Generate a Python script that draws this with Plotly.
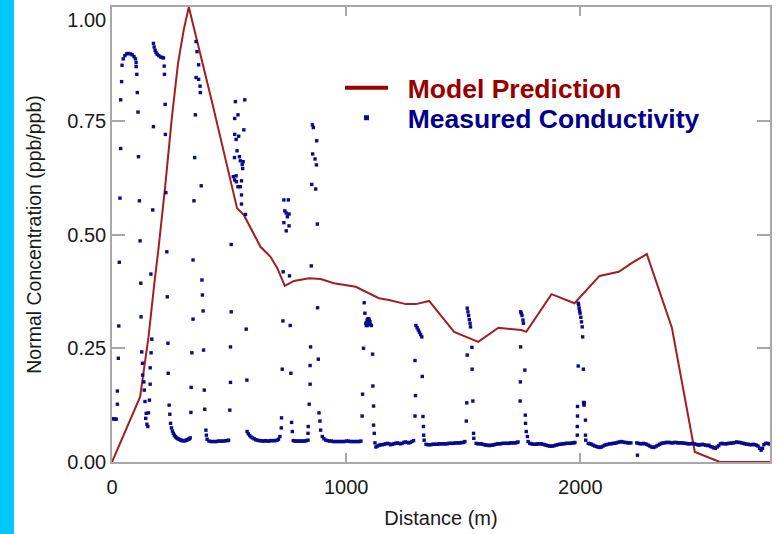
import plotly.graph_objects as go

# ---------------- data ----------------
model_d = [0, 120, 138, 156, 181, 198, 227, 256, 282, 306, 328, 430, 534, 563, 634, 677, 706, 738,
           777, 841, 891, 948, 1041, 1140, 1183, 1255, 1298, 1354, 1461, 1564, 1650, 1748, 1769,
           1877, 1975, 2082, 2164, 2219, 2284, 2391, 2489, 2596, 2810]
model_v = [0.0, 0.143, 0.209, 0.275, 0.393, 0.466, 0.605, 0.759, 0.876, 0.949, 1.0, 0.785, 0.558,
           0.543, 0.473, 0.451, 0.426, 0.387, 0.398, 0.404, 0.402, 0.393, 0.385, 0.36, 0.356, 0.347,
           0.347, 0.354, 0.286, 0.264, 0.295, 0.29, 0.286, 0.369, 0.349, 0.409, 0.418, 0.437, 0.457,
           0.295, 0.022, 0.0, 0.0]

# measured conductivity, grouped by stretch of the profile (distance m, normalised value)
seg_start_d = [3, 8, 13, 18, 23, 23, 27, 29, 31, 34, 37, 37, 41,
               43, 48, 55, 62, 70, 78, 86, 94, 100, 103,
               103, 106, 108, 111, 113, 117, 120, 123, 124, 127, 130, 131, 136, 138, 141, 144, 146, 149, 153,
               156, 160, 163, 163, 167, 170, 166, 174, 177,
               177, 180, 184, 188, 193, 200, 208, 215, 220,
               223, 224, 227, 228, 230, 234, 236, 239, 240, 244, 247]
seg_start_v = [0.095, 0.095, 0.094, 0.094, 0.127, 0.156, 0.228, 0.299, 0.439, 0.58, 0.689, 0.796, 0.836,
               0.872, 0.886, 0.893, 0.897, 0.898, 0.897, 0.895, 0.891, 0.886, 0.878,
               0.869, 0.852, 0.812, 0.769, 0.671, 0.574, 0.486, 0.393, 0.319, 0.242, 0.217, 0.191, 0.176, 0.158, 0.133, 0.096, 0.107, 0.083, 0.078,
               0.108, 0.136, 0.171, 0.207, 0.24, 0.27, 0.413, 0.554, 0.737,
               0.92, 0.912, 0.905, 0.9, 0.896, 0.893, 0.89, 0.889, 0.888,
               0.87, 0.852, 0.786, 0.72, 0.592, 0.462, 0.363, 0.261, 0.195, 0.125, 0.105]

seg_a_d = [250, 254, 258, 262, 266, 270, 274, 278, 282, 286, 290, 294, 298, 302, 306, 310, 314, 318, 322, 326, 330, 334,
           337, 338, 341, 346, 346, 350, 353, 356, 359, 359, 363, 370, 370, 376, 377, 381, 384, 386, 389, 391, 394, 396, 401, 403,
           406, 414, 422, 430, 438, 446, 454, 462, 470, 478, 486, 494, 498]
seg_a_v = [0.085, 0.075, 0.068, 0.063, 0.059, 0.056, 0.054, 0.052, 0.051, 0.05, 0.049, 0.048, 0.047, 0.047, 0.047, 0.047, 0.047, 0.048, 0.049, 0.05, 0.051, 0.053,
           0.109, 0.164, 0.24, 0.314, 0.444, 0.574, 0.669, 0.763, 0.845, 0.924, 0.902, 0.873, 0.841, 0.826, 0.812, 0.607, 0.4, 0.367, 0.332, 0.246, 0.158, 0.116, 0.07, 0.059,
           0.05, 0.046, 0.045, 0.045, 0.045, 0.045, 0.046, 0.046, 0.046, 0.046, 0.047, 0.047, 0.048]

seg_b_d = [503, 506, 506, 509, 509,
           527, 567, 538, 524, 563, 524, 541, 530, 534, 523, 544, 548, 560, 556, 558, 518, 530, 524, 531, 538, 553, 548, 553, 553, 570,
           573, 576,
           577, 582, 588, 594, 600, 607, 614, 621, 628, 635, 642, 649, 656, 663, 670, 677, 684, 691, 698, 705, 711, 717]
seg_b_v = [0.114, 0.175, 0.253, 0.33, 0.478,
           0.792, 0.796, 0.763, 0.755, 0.73, 0.72, 0.716, 0.709, 0.684, 0.669, 0.671, 0.662, 0.66, 0.654, 0.645, 0.627, 0.629, 0.62, 0.616, 0.605, 0.618, 0.605, 0.587, 0.567, 0.544,
           0.292, 0.18,
           0.067, 0.062, 0.058, 0.055, 0.053, 0.051, 0.049, 0.048, 0.047, 0.047, 0.046, 0.046, 0.047, 0.046, 0.046, 0.047, 0.047, 0.047, 0.047, 0.048, 0.05, 0.056]

seg_c_d = [723, 724, 727, 730, 731, 734, 734, 738, 744, 749, 744, 753, 756, 756, 758, 761, 764, 767, 770,
           774, 781, 788, 795, 802, 809, 816, 823, 830, 837,
           837, 838, 842, 846, 846, 848, 851, 853, 856, 860, 874, 857, 867, 873, 870, 877, 878, 881, 884, 888, 891,
           898, 905, 913, 921, 929, 937, 945, 953, 961, 969, 977, 985, 993, 1001, 1009, 1017, 1025, 1033, 1041, 1049, 1057, 1063]
seg_c_v = [0.075, 0.097, 0.204, 0.31, 0.418, 0.526, 0.576, 0.552, 0.547, 0.539, 0.508, 0.576, 0.545, 0.519, 0.409, 0.3, 0.195, 0.087, 0.067,
           0.047, 0.046, 0.046, 0.046, 0.046, 0.046, 0.046, 0.046, 0.047, 0.048,
           0.063, 0.078, 0.127, 0.171, 0.212, 0.253, 0.431, 0.61, 0.741, 0.735, 0.706, 0.677, 0.666, 0.653, 0.6, 0.523, 0.339, 0.226, 0.108, 0.09, 0.07,
           0.056, 0.051, 0.048, 0.047, 0.046, 0.046, 0.045, 0.045, 0.045, 0.045, 0.045, 0.045, 0.045, 0.046, 0.046, 0.045, 0.045, 0.045, 0.045, 0.045, 0.045, 0.046]

seg_d_d = [1068, 1070, 1074, 1077, 1080, 1084, 1086, 1088, 1090, 1093, 1096, 1099, 1102, 1104, 1090, 1096, 1108, 1113, 1114, 1117, 1117, 1120,
           1123, 1127, 1134, 1141, 1148, 1155, 1162, 1169, 1176, 1183, 1190, 1197, 1204, 1211, 1218, 1225, 1232, 1239, 1246, 1253, 1260, 1267, 1274, 1281, 1288,
           1298, 1303, 1308, 1313, 1318, 1323, 1294, 1325, 1296, 1294, 1328, 1330, 1331, 1333,
           1341, 1348, 1355, 1362, 1369, 1376, 1383, 1390, 1397, 1404, 1411, 1418, 1425, 1432, 1439, 1446, 1453, 1460, 1467, 1474, 1481, 1488, 1495, 1502, 1507]
seg_d_v = [0.101, 0.149, 0.25, 0.35, 0.327, 0.305, 0.3, 0.307, 0.312, 0.315, 0.315, 0.312, 0.308, 0.302, 0.3, 0.305, 0.3, 0.237, 0.167, 0.123, 0.081, 0.063,
           0.042, 0.033, 0.035, 0.037, 0.038, 0.038, 0.039, 0.04, 0.041, 0.04, 0.038, 0.039, 0.04, 0.041, 0.042, 0.041, 0.04, 0.041, 0.043, 0.044, 0.043, 0.042, 0.043, 0.045, 0.047,
           0.3, 0.295, 0.29, 0.285, 0.28, 0.275, 0.223, 0.188, 0.146, 0.101, 0.1, 0.078, 0.059, 0.048,
           0.039, 0.038, 0.038, 0.038, 0.039, 0.039, 0.039, 0.039, 0.04, 0.04, 0.04, 0.04, 0.04, 0.04, 0.041, 0.041, 0.041, 0.041, 0.042, 0.042, 0.042, 0.042, 0.043, 0.043, 0.045]

seg_e_d = [1513, 1515, 1517, 1517, 1520, 1523, 1526, 1529, 1531, 1537, 1538, 1541, 1544, 1545,
           1555, 1562, 1569, 1576, 1583, 1590, 1597, 1604, 1611, 1618, 1625, 1632, 1639, 1646, 1653, 1660, 1667, 1674, 1681, 1688, 1695, 1702, 1709, 1716, 1723, 1730, 1734,
           1743, 1744, 1745, 1745, 1748, 1751, 1755, 1757, 1763, 1765, 1766, 1769, 1774, 1777,
           1784, 1791, 1798, 1805, 1812, 1819, 1826, 1833, 1840, 1847, 1854, 1861, 1868, 1875, 1882, 1889, 1896, 1903, 1910, 1917, 1924, 1931, 1938, 1945, 1952, 1959, 1966, 1973, 1977]
seg_e_v = [0.09, 0.13, 0.235, 0.338, 0.33, 0.322, 0.313, 0.305, 0.297, 0.252, 0.204, 0.134, 0.063, 0.052,
           0.041, 0.04, 0.04, 0.04, 0.039, 0.038, 0.037, 0.037, 0.036, 0.037, 0.037, 0.038, 0.039, 0.04, 0.04, 0.04, 0.041, 0.041, 0.041, 0.041, 0.041, 0.042, 0.042, 0.042, 0.042, 0.043, 0.044,
           0.134, 0.176, 0.253, 0.33, 0.327, 0.322, 0.312, 0.305, 0.202, 0.103, 0.085, 0.067, 0.056, 0.045,
           0.041, 0.04, 0.039, 0.039, 0.039, 0.04, 0.04, 0.04, 0.039, 0.038, 0.037, 0.036, 0.035, 0.035, 0.035, 0.036, 0.037, 0.038, 0.039, 0.039, 0.04, 0.04, 0.041, 0.041, 0.041, 0.041, 0.042, 0.042, 0.043]

seg_f_d = [1987, 1987, 1988, 1988, 1991, 1991, 1993, 1995, 1997, 1999, 2002, 2005, 2008, 2010, 2013, 2014, 2015, 2016, 2017, 2022, 2022, 2023,
           2034, 2041, 2048, 2055, 2062, 2069, 2076, 2083, 2090, 2097, 2104, 2111, 2118, 2125, 2132, 2139, 2146, 2153, 2160, 2167, 2174, 2181, 2188, 2195, 2202, 2209, 2216,
           2244]
seg_f_v = [0.078, 0.059, 0.101, 0.122, 0.211, 0.349, 0.345, 0.338, 0.332, 0.327, 0.318, 0.308, 0.297, 0.275, 0.204, 0.131, 0.128, 0.125, 0.13, 0.092, 0.059, 0.048,
           0.041, 0.04, 0.039, 0.037, 0.035, 0.034, 0.033, 0.032, 0.033, 0.035, 0.037, 0.038, 0.039, 0.04, 0.04, 0.041, 0.041, 0.042, 0.043, 0.044, 0.045, 0.044, 0.043, 0.043, 0.042, 0.042, 0.042,
           0.015]

seg_g_d = [2241, 2248, 2255, 2262, 2269, 2276, 2283, 2290, 2297, 2304, 2311, 2318, 2325, 2332, 2339, 2346, 2353, 2360, 2367, 2374,
           2381, 2388, 2395, 2402, 2409, 2416, 2423, 2430, 2437, 2444, 2451, 2458, 2465, 2472, 2479, 2486, 2493, 2500, 2507, 2514,
           2521, 2528, 2535, 2542, 2549, 2556, 2563, 2570, 2577, 2584, 2591, 2598, 2605, 2612, 2619, 2626, 2633, 2640, 2647, 2654,
           2661, 2668, 2675, 2682, 2689, 2696, 2703, 2710, 2717, 2724, 2731, 2738, 2745, 2752, 2759, 2766, 2772, 2778, 2784, 2791,
           2798, 2805, 2810]
seg_g_v = [0.042, 0.041, 0.04, 0.04, 0.041, 0.04, 0.039, 0.037, 0.035, 0.033, 0.032, 0.033, 0.035, 0.037, 0.039, 0.041, 0.042, 0.042, 0.043, 0.043,
           0.043, 0.042, 0.042, 0.043, 0.043, 0.042, 0.042, 0.042, 0.042, 0.041, 0.041, 0.04, 0.04, 0.04, 0.041, 0.04, 0.039, 0.038, 0.037, 0.038,
           0.039, 0.038, 0.037, 0.036, 0.037, 0.034, 0.033, 0.031, 0.03, 0.033, 0.036, 0.04, 0.041, 0.04, 0.04, 0.04, 0.041, 0.041, 0.042, 0.042,
           0.043, 0.044, 0.043, 0.043, 0.042, 0.041, 0.04, 0.039, 0.039, 0.038, 0.038, 0.039, 0.038, 0.037, 0.035, 0.03, 0.026, 0.03, 0.038, 0.041,
           0.041, 0.04, 0.04]

meas_d = seg_start_d + seg_a_d + seg_b_d + seg_c_d + seg_d_d + seg_e_d + seg_f_d + seg_g_d
meas_v = seg_start_v + seg_a_v + seg_b_v + seg_c_v + seg_d_v + seg_e_v + seg_f_v + seg_g_v

y_ticks = [0, 0.25, 0.5, 0.75, 1.0]
y_tick_text = ["0.00", "0.25", "0.50", "0.75", "1.00"]
x_ticks = [0, 1000, 2000]

# ---------------- figure ----------------
W, H = 781, 534
ML, MR, MT, MB = 112, 11, 7, 72
PW, PH = W - ML - MR, H - MT - MB

RED = "#A21F1F"
BLUE = "#0A0A8F"
FONT = "Liberation Sans, Arial, Helvetica, sans-serif"
SP = "&nbsp;&nbsp;"

# the top label sits just below its tick (as in the original) so it stays inside the page
y_labels = y_tick_text[:-1] + ["<br>" + y_tick_text[-1]]

fig = go.Figure()
fig.add_trace(go.Scatter(x=model_d, y=model_v, mode="lines", showlegend=False,
                         line=dict(color=RED, width=2), name="Model Prediction"))
fig.add_trace(go.Scatter(x=meas_d, y=meas_v, mode="markers", showlegend=False,
                         marker=dict(color=BLUE, size=3.4, symbol="square", line=dict(width=0)),
                         name="Measured Conductivity"))
# legend entries (one legend box per row for exact placement)
fig.add_trace(go.Scatter(x=[None], y=[None], mode="lines", line=dict(color="#9A0000", width=4),
                         legend="legend",
                         name=SP + "<b><span style='color:#990000'>Model Prediction</span></b>"))
fig.add_trace(go.Scatter(x=[None], y=[None], mode="markers", legend="legend2",
                         marker=dict(color=BLUE, size=5, symbol="square", line=dict(width=0)),
                         name=SP + "<b><span style='color:#00008B'>Measured Conductivity</span></b>"))

axis_common = dict(showline=True, linecolor="#A8A8A8", linewidth=1.5, mirror="allticks",
                   ticks="inside", tickcolor="#A8A8A8", tickwidth=1.5, showgrid=False, zeroline=False,
                   ticklabeloverflow="allow", automargin=False,
                   tickfont=dict(family=FONT, size=20, color="#1a1a1a"))

leg_common = dict(xanchor="left", yanchor="middle", bgcolor="rgba(0,0,0,0)", borderwidth=0,
                  itemwidth=43, font=dict(family=FONT, size=26.5))

fig.update_layout(
    width=W, height=H,
    margin=dict(l=ML, r=MR, t=MT, b=MB),
    paper_bgcolor="white", plot_bgcolor="white",
    font=dict(family=FONT, color="#1a1a1a"),
    xaxis=dict(range=[0, 2810], tickvals=x_ticks, ticklen=9, ticklabelstandoff=6,
               title=dict(text="Distance (m)", font=dict(family=FONT, size=20), standoff=14),
               **axis_common),
    yaxis=dict(range=[0, 1], tickvals=y_ticks, ticktext=y_labels, ticklen=13,
               title=dict(text="Normal Concentration (ppb/ppb)", font=dict(family=FONT, size=19.5), standoff=20),
               **axis_common),
    legend=dict(x=(340 - ML) / PW, y=1 - (88 - MT) / PH, **leg_common),
    legend2=dict(x=(340 - ML) / PW, y=1 - (118 - MT) / PH, **leg_common),
    shapes=[dict(type="rect", xref="paper", yref="paper",
                 x0=-ML / PW, x1=(14 - ML) / PW, y0=-MB / PH, y1=1 + MT / PH,
                 fillcolor="#00C8FF", line=dict(width=0), layer="below")],
)

fig.write_html("out.html")
